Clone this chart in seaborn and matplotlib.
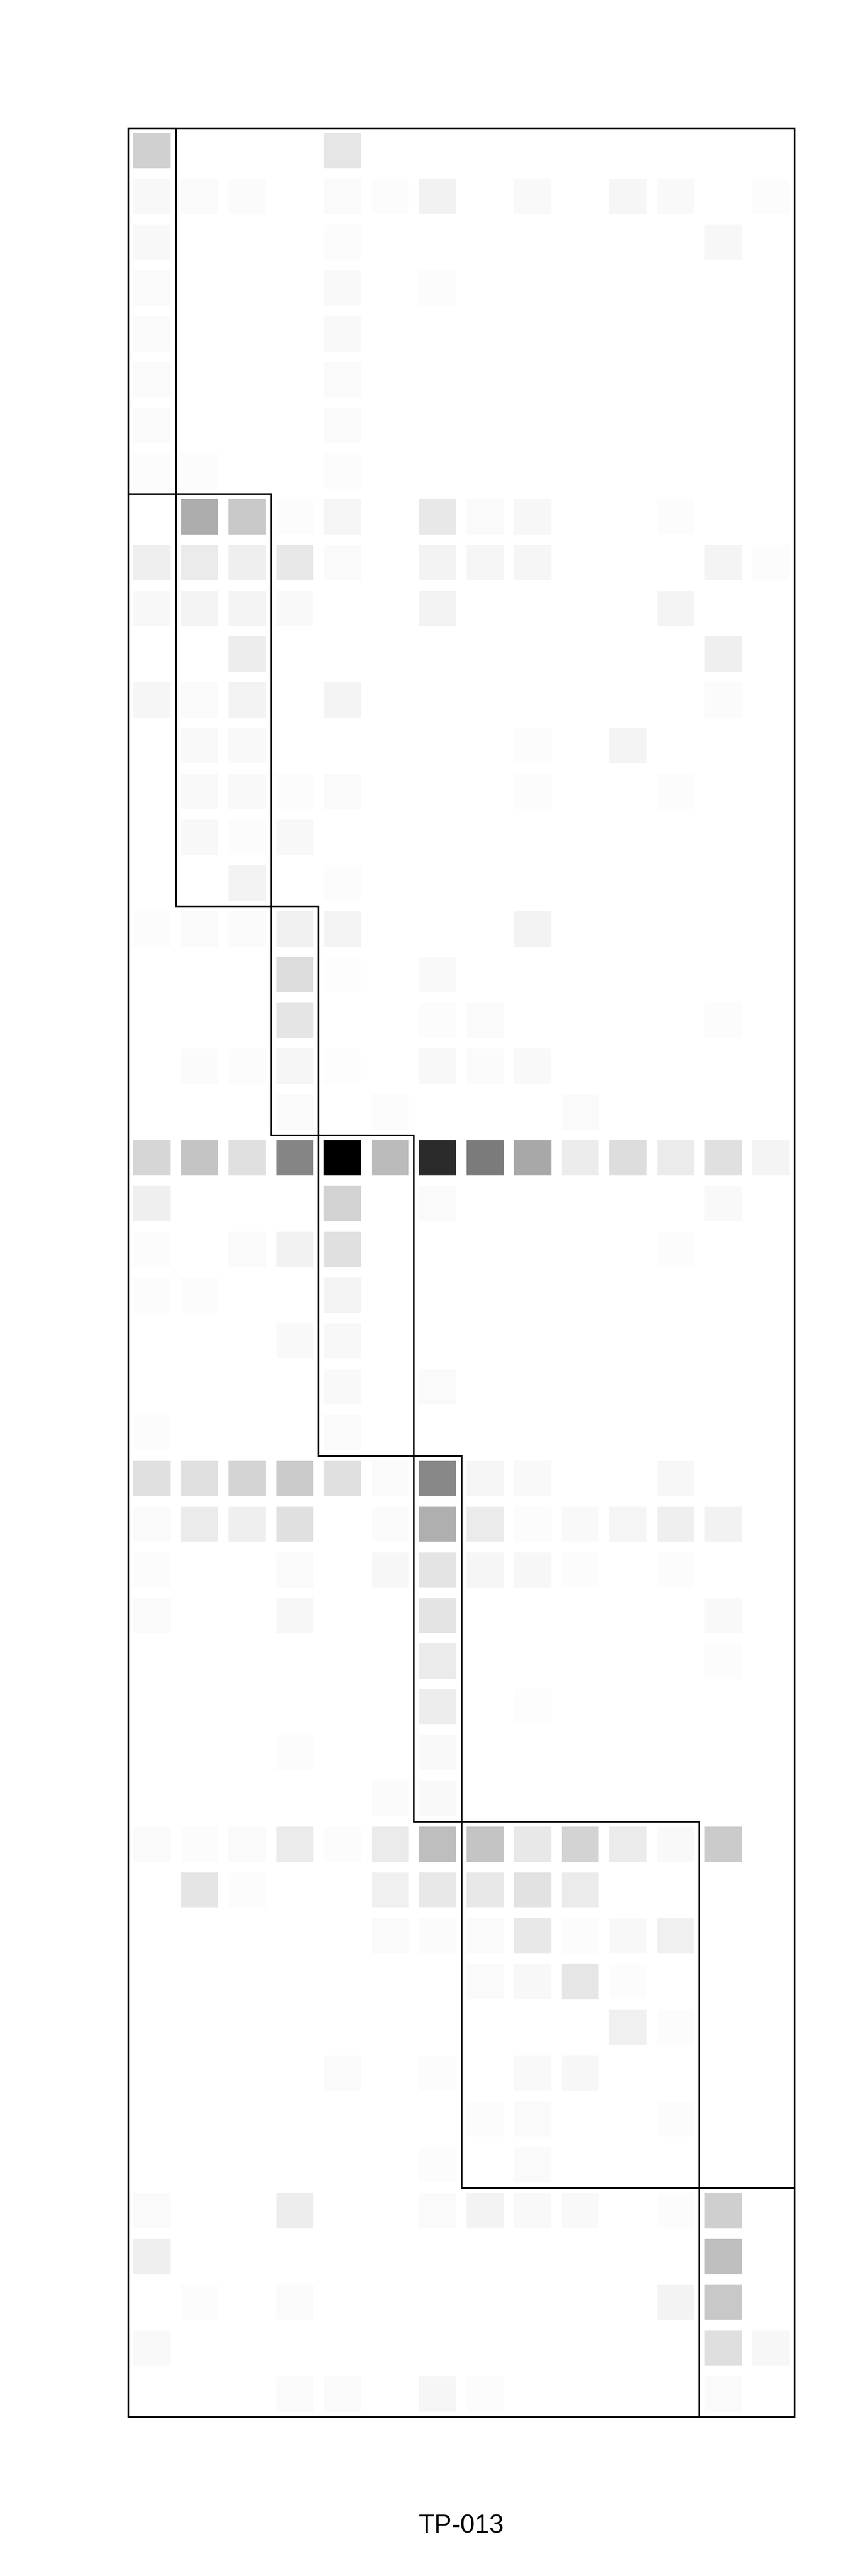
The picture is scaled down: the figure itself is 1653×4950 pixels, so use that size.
import numpy as np
import pandas as pd
import matplotlib
matplotlib.use('Agg')
import matplotlib.pyplot as plt
from matplotlib.patches import Rectangle
import seaborn as sns

# intensita' delle celle (0 = bianco, 255 = nero), 50 righe x 14 colonne
valori = [
    [47, 0, 0, 0, 25, 0, 0, 0, 0, 0, 0, 0, 0, 0],
    [7, 5, 4, 0, 5, 3, 13, 0, 6, 0, 9, 6, 0, 3],
    [7, 0, 0, 0, 3, 0, 0, 0, 0, 0, 0, 0, 8, 0],
    [5, 0, 0, 0, 6, 0, 3, 0, 0, 0, 0, 0, 0, 0],
    [5, 0, 0, 0, 6, 0, 0, 0, 0, 0, 0, 0, 0, 0],
    [5, 0, 0, 0, 5, 0, 0, 0, 0, 0, 0, 0, 0, 0],
    [5, 0, 0, 0, 5, 0, 0, 0, 0, 0, 0, 0, 0, 0],
    [3, 3, 0, 0, 3, 0, 0, 0, 0, 0, 0, 0, 0, 0],
    [0, 82, 55, 3, 10, 0, 23, 5, 8, 0, 0, 3, 0, 0],
    [16, 20, 16, 23, 5, 0, 12, 9, 9, 0, 0, 0, 11, 3],
    [7, 11, 11, 6, 0, 0, 12, 0, 0, 0, 0, 11, 0, 0],
    [0, 0, 18, 0, 0, 0, 0, 0, 0, 0, 0, 0, 16, 0],
    [9, 5, 12, 0, 11, 0, 0, 0, 0, 0, 0, 0, 4, 0],
    [0, 6, 6, 0, 0, 0, 0, 0, 3, 0, 11, 0, 0, 0],
    [0, 6, 6, 3, 5, 0, 0, 0, 3, 0, 0, 3, 0, 0],
    [0, 7, 3, 7, 0, 0, 0, 0, 0, 0, 0, 0, 0, 0],
    [0, 0, 12, 0, 3, 0, 0, 0, 0, 0, 0, 0, 0, 0],
    [3, 5, 4, 15, 11, 0, 0, 0, 12, 0, 0, 0, 0, 0],
    [0, 0, 0, 35, 2, 0, 6, 0, 0, 0, 0, 0, 0, 0],
    [0, 0, 0, 26, 0, 0, 3, 5, 0, 0, 0, 0, 3, 0],
    [0, 4, 3, 10, 2, 0, 7, 4, 6, 0, 0, 0, 0, 0],
    [0, 0, 0, 5, 0, 3, 0, 0, 0, 5, 0, 0, 0, 0],
    [41, 59, 31, 122, 255, 68, 212, 132, 87, 19, 34, 20, 31, 11],
    [16, 0, 0, 0, 45, 0, 5, 0, 0, 0, 0, 0, 6, 0],
    [3, 0, 5, 13, 31, 0, 0, 0, 0, 0, 0, 3, 0, 0],
    [3, 3, 0, 0, 11, 0, 0, 0, 0, 0, 0, 0, 0, 0],
    [0, 0, 0, 6, 7, 0, 0, 0, 0, 0, 0, 0, 0, 0],
    [0, 0, 0, 0, 6, 0, 5, 0, 0, 0, 0, 0, 0, 0],
    [3, 0, 0, 0, 5, 0, 0, 0, 0, 0, 0, 0, 0, 0],
    [31, 31, 43, 52, 31, 5, 119, 9, 6, 0, 0, 8, 0, 0],
    [5, 20, 16, 31, 0, 4, 80, 20, 3, 6, 10, 16, 13, 0],
    [3, 0, 0, 5, 0, 8, 27, 9, 8, 3, 0, 3, 0, 0],
    [5, 0, 0, 8, 0, 0, 27, 0, 0, 0, 0, 0, 6, 0],
    [0, 0, 0, 0, 0, 0, 20, 0, 0, 0, 0, 0, 3, 0],
    [0, 0, 0, 0, 0, 0, 18, 0, 2, 0, 0, 0, 0, 0],
    [0, 0, 0, 3, 0, 0, 6, 0, 0, 0, 0, 0, 0, 0],
    [0, 0, 0, 0, 0, 4, 6, 0, 0, 0, 0, 0, 0, 0],
    [5, 3, 5, 20, 3, 20, 65, 59, 23, 44, 20, 6, 52, 0],
    [0, 26, 3, 0, 0, 15, 23, 23, 29, 20, 0, 0, 0, 0],
    [0, 0, 0, 0, 0, 5, 4, 5, 23, 3, 7, 15, 0, 0],
    [0, 0, 0, 0, 0, 0, 0, 5, 7, 25, 3, 0, 0, 0],
    [0, 0, 0, 0, 0, 0, 0, 0, 0, 0, 15, 3, 0, 0],
    [0, 0, 0, 0, 5, 0, 3, 0, 6, 8, 0, 0, 0, 0],
    [0, 0, 0, 0, 0, 0, 0, 3, 5, 0, 0, 3, 0, 0],
    [0, 0, 0, 0, 0, 0, 3, 0, 5, 0, 0, 0, 0, 0],
    [5, 0, 0, 18, 0, 0, 5, 12, 6, 6, 0, 3, 48, 0],
    [16, 0, 0, 0, 0, 0, 0, 0, 0, 0, 0, 0, 64, 0],
    [0, 3, 0, 5, 0, 0, 0, 0, 0, 0, 0, 12, 55, 0],
    [6, 0, 0, 0, 0, 0, 0, 0, 0, 0, 0, 0, 32, 8],
    [0, 0, 0, 5, 5, 0, 9, 3, 0, 0, 0, 0, 5, 0],
]

# dimensioni dei blocchi (righe e colonne) lungo la diagonale
gruppi_righe = [8, 9, 5, 7, 8, 8, 5]
gruppi_colonne = [1, 2, 1, 2, 1, 5, 2]

titolo = 'TP-013'

df = pd.DataFrame(valori)

fig = plt.figure(figsize=(16.535, 49.505), dpi=100)
ax = fig.add_axes([246 / 1653, 306 / 4950, 1281 / 1653, 4398 / 4950])

sns.heatmap(df, cmap='gray_r', vmin=0, vmax=255, cbar=False,
            linewidths=13, linecolor='white',
            xticklabels=False, yticklabels=False, ax=ax)

# cornice esterna
n_righe, n_colonne = df.shape
ax.add_patch(Rectangle((0, 0), n_colonne, n_righe, fill=False,
                       edgecolor='black', lw=2.2, clip_on=False))

# contorni dei blocchi
r0 = np.concatenate([[0], np.cumsum(gruppi_righe)[:-1]])
c0 = np.concatenate([[0], np.cumsum(gruppi_colonne)[:-1]])
for r, c, h, w in zip(r0, c0, gruppi_righe, gruppi_colonne):
    ax.add_patch(Rectangle((c, r), w, h, fill=False,
                           edgecolor='black', lw=2.2, clip_on=False))

ax.text(0.5, -0.0477, titolo, transform=ax.transAxes, ha='center', va='center',
        fontsize=36, family=['Liberation Sans', 'DejaVu Sans'])

fig.savefig('out.png', dpi=100)
plt.close()
